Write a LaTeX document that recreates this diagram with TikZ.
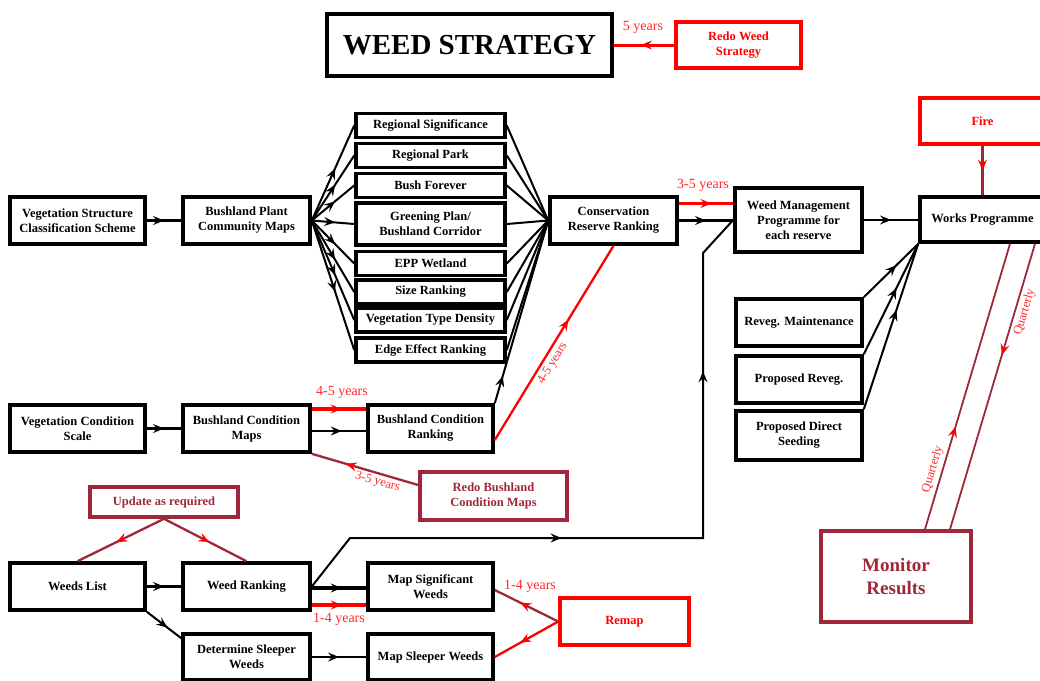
\documentclass[tikz,border=0pt]{standalone}
\usepackage{fontspec}
\setmainfont{Liberation Serif}
\usetikzlibrary{arrows.meta,decorations.markings,calc}
\definecolor{dred}{RGB}{158,40,58}
\definecolor{lred}{RGB}{255,40,40}
\tikzset{
  box/.style={draw,line width=3.6pt,inner sep=0pt,align=center,font=\fontsize{12.5}{15}\selectfont\bfseries},
  rbox/.style={box,draw=red,text=red},
  dbox/.style={box,draw=dred,text=dred},
  conn/.style={line width=2.3pt},
  dconn/.style={line width=2.3pt,draw=dred},
  amid/.style={postaction={decorate,decoration={markings,mark=at position #1 with {\arrow{Stealth[length=11pt,width=9pt,inset=4pt]}}}}},
  amid/.default=0.5,
  rmid/.style={postaction={decorate,decoration={markings,mark=at position #1 with {\arrow{Stealth[length=11pt,width=9pt,inset=4pt,color=red]}}}}},
  rmid/.default=0.5,
  twoarr/.style 2 args={postaction={decorate,decoration={markings,
     mark=at position #1 with {\arrow{Stealth[length=11pt,width=9pt,inset=4pt]}},
     mark=at position #2 with {\arrow{Stealth[length=11pt,width=9pt,inset=4pt]}}}}},
  lbl/.style={text=lred,font=\fontsize{14}{16}\selectfont,inner sep=1pt},
  qlbl/.style={text=lred,font=\fontsize{12.5}{14}\selectfont,inner sep=1pt},
}
\begin{document}
\begin{tikzpicture}[x=1pt,y=-1pt]
\useasboundingbox (0,0) rectangle (1040,680);

% title
\node[box,font=\fontsize{29}{33}\selectfont\bfseries,minimum width=285,minimum height=62] (ws) at (469.5,45) {WEED STRATEGY};
\node[rbox,minimum width=125,minimum height=46] (rws) at (738.5,45) {Redo Weed\\Strategy};

% top-right
\node[rbox,minimum width=125,minimum height=46] (fire) at (982.5,121) {Fire};
\node[box,minimum width=125,minimum height=45] (wp) at (982.5,219.5) {Works Programme};
\node[box,minimum width=127,minimum height=64] (wmp) at (798.5,220) {Weed Management\\Programme for\\each reserve};
\node[box,minimum width=127,minimum height=47] (crr) at (613.5,220.5) {Conservation\\Reserve Ranking};

% left row 1
\node[box,minimum width=135,minimum height=47] (vscs) at (77.5,220.5) {Vegetation Structure\\Classification Scheme};
\node[box,minimum width=127,minimum height=47] (bpcm) at (246.5,220.5) {Bushland Plant\\Community Maps};

% criteria
\node[box,minimum width=149,minimum height=24] (rs) at (430.5,125.5) {Regional Significance};
\node[box,minimum width=149,minimum height=24] (rp) at (430.5,155.5) {Regional Park};
\node[box,minimum width=149,minimum height=24] (bf) at (430.5,185.5) {Bush Forever};
\node[box,minimum width=149,minimum height=42] (gp) at (430.5,224) {Greening Plan/\\Bushland Corridor};
\node[box,minimum width=149,minimum height=24] (epp) at (430.5,263.5) {EPP Wetland};
\node[box,minimum width=149,minimum height=24] (sr) at (430.5,292) {Size Ranking};
\node[box,minimum width=149,minimum height=24] (vtd) at (430.5,320) {Vegetation Type Density};
\node[box,minimum width=149,minimum height=24] (eer) at (430.5,350) {Edge Effect Ranking};

% row 2
\node[box,minimum width=135,minimum height=47] (vcs) at (77.5,428.5) {Vegetation Condition\\Scale};
\node[box,minimum width=127,minimum height=47] (bcm) at (246.5,428.5) {Bushland Condition\\Maps};
\node[box,minimum width=125,minimum height=47] (bcr) at (430.5,428.5) {Bushland Condition\\Ranking};
\node[dbox,minimum width=147,minimum height=48] (rbcm) at (493.5,496) {Redo Bushland\\Condition Maps};

% row 3
\node[dbox,minimum width=148,minimum height=30] (uar) at (164,502) {Update as required};
\node[box,minimum width=135,minimum height=47] (wl) at (77.5,586.5) {Weeds List};
\node[box,minimum width=127,minimum height=47] (wr) at (246.5,586.5) {Weed Ranking};
\node[box,minimum width=125,minimum height=47] (msw) at (430.5,586.5) {Map Significant\\Weeds};
\node[box,minimum width=127,minimum height=46] (dsw) at (246.5,657) {Determine Sleeper\\Weeds};
\node[box,minimum width=125,minimum height=46] (mslw) at (430.5,657) {Map Sleeper Weeds};
\node[rbox,minimum width=129,minimum height=47] (remap) at (624.5,621.5) {Remap};

% right column
\node[box,minimum width=126,minimum height=47] (rm) at (799,322.5) {Reveg. Maintenance};
\node[box,minimum width=126,minimum height=47] (pr) at (799,379.5) {Proposed Reveg.};
\node[box,minimum width=126,minimum height=49] (pds) at (799,435.5) {Proposed Direct\\Seeding};
\node[dbox,font=\fontsize{19}{23}\selectfont\bfseries,minimum width=150,minimum height=91] (mr) at (896,576.5) {Monitor\\Results};

% ---------- connectors ----------
\draw[conn,red,line width=3pt,amid=0.55] (rws.west) -- (ws.east);
\node[lbl] (l5y) at (643,27) {5 years};

\draw[dconn,rmid=0.5] (fire.south) -- (wp.north);

\draw[conn,amid] (vscs.east) -- (bpcm.west);
\foreach \n in {rs,rp,bf,gp,epp,sr,vtd,eer}{
  \draw[conn,line width=2pt,amid=0.55] (bpcm.east) -- (\n.west);
  \draw[conn,line width=2pt] (\n.east) -- (crr.west);
}

\draw[conn,line width=2pt,amid=0.15] (bcr.north east) -- (crr.west);
\coordinate (bcrr) at ([yshift=-11.5pt]bcr.east);
\draw[conn,red,amid=0.62] (bcrr) -- (crr.south) node[qlbl,sloped,pos=0.42,below=2pt] {4-5 years};

\coordinate (c1) at ([yshift=17pt]crr.east);
\draw[conn,red,line width=3.8pt,amid=0.6] (c1) -- (c1 -| wmp.west);
\node[lbl] (l35a) at (703,185) {3-5 years};
\draw[conn,amid] (crr.east) -- (crr.east -| wmp.west);
\draw[conn,amid] (wmp.east) -- (wmp.east -| wp.west);

\foreach \n in {rm,pr,pds}{
  \draw[conn,line width=2pt,amid=0.6] (\n.north east) -- (wp.south west);
}

\coordinate (m1) at ([xshift=29pt]mr.north);
\coordinate (w1) at ([xshift=27.5pt]wp.south);
\draw[dconn,line width=1.8pt,rmid=0.36] (m1) -- (w1) node[qlbl,sloped,pos=0.2,above=2pt] {Quarterly};
\coordinate (m2) at ([xshift=54pt]mr.north);
\coordinate (w2) at ([xshift=52.5pt]wp.south);
\draw[dconn,line width=1.8pt,rmid=0.39] (w2) -- (m2) node[qlbl,sloped,pos=0.23,below=2pt] {Quarterly};

% row 2 connectors
\draw[conn,amid] (vcs.east) -- (bcm.west);
\coordinate (c2) at ([yshift=19.5pt]bcm.east);
\draw[conn,red,line width=3.8pt,amid=0.55] (c2) -- (c2 -| bcr.west);
\node[lbl] (l45) at (342,392) {4-5 years};
\coordinate (c3) at ([yshift=-2.5pt]bcm.east);
\draw[conn,amid=0.55] (c3) -- (c3 -| bcr.west);
\coordinate (c4) at ([yshift=11pt]rbcm.west);
\draw[dconn,rmid=0.68] (c4) -- (bcm.south east) node[qlbl,sloped,pos=0.36,below=1pt] {3-5 years};

% row 3 connectors
\draw[dconn,rmid=0.55] (uar.south) -- (wl.north);
\draw[dconn,rmid=0.55] (uar.south) -- (wr.north);
\draw[conn,amid] (wl.east) -- (wr.west);
\draw[conn,line width=2pt,amid=0.6] (wl.south east) -- ([yshift=-6pt]dsw.north west);
\draw[conn,line width=4.5pt,amid=0.55] ([yshift=-1.5pt]wr.east) -- ([yshift=-1.5pt]msw.west);
\coordinate (c5) at ([yshift=-18.5pt]wr.east);
\draw[conn,red,line width=3.8pt,amid=0.55] (c5) -- (c5 -| msw.west) node[lbl,midway,below=5pt] {1-4 years};
\coordinate (b1) at (350,538);
\coordinate (b2) at (703,538);
\coordinate (b3) at (703,253);
\draw[conn,line width=2pt,twoarr={0.367}{0.781}] (wr.east) -- (b1) -- (b2) -- (b3) -- (wmp.west);
\draw[conn,amid] (dsw.east) -- (mslw.west);
\draw[dconn,rmid=0.6] (remap.west) -- ([yshift=-3.5pt]msw.east);
\node[lbl] (l14b) at (530,586) {1-4 years};
\draw[conn,red,amid=0.6] (remap.west) -- (mslw.east);
\end{tikzpicture}
\end{document}
